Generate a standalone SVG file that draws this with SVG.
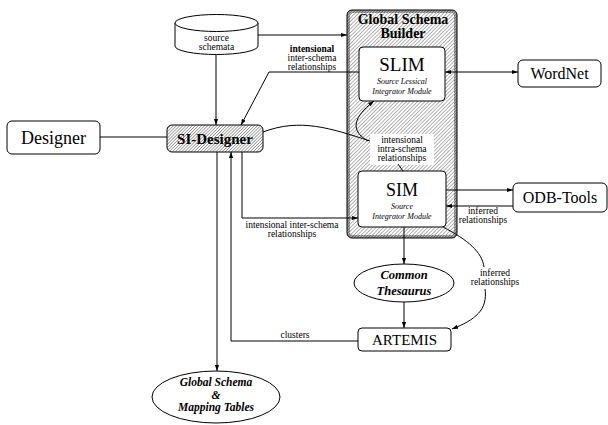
<svg xmlns="http://www.w3.org/2000/svg" width="608" height="425" viewBox="0 0 608 425" font-family="'Liberation Serif', 'Times New Roman', serif">
<defs>
<pattern id="hatch" patternUnits="userSpaceOnUse" width="2.6" height="2.6" patternTransform="rotate(45)">
<rect width="2.6" height="2.6" fill="#fff"/>
<line x1="0" y1="0" x2="0" y2="2.6" stroke="#777" stroke-width="1.1"/>
</pattern>
<pattern id="hatchMid" patternUnits="userSpaceOnUse" width="2.2" height="2.2" patternTransform="rotate(45)">
<rect width="2.2" height="2.2" fill="#fff"/>
<line x1="0" y1="0" x2="0" y2="2.2" stroke="#666" stroke-width="1.1"/>
</pattern>
<pattern id="hatchDark" patternUnits="userSpaceOnUse" width="2" height="2" patternTransform="rotate(45)">
<rect width="2" height="2" fill="#bbb"/>
<line x1="0" y1="0" x2="0" y2="2" stroke="#222" stroke-width="1.1"/>
</pattern>
<marker id="arr" viewBox="0 0 10 10" refX="10" refY="5" markerWidth="6" markerHeight="6" orient="auto-start-reverse" markerUnits="userSpaceOnUse">
<path d="M0,1.5 L10,5 L0,8.5 z" fill="#000"/>
</marker>
<style>
text{fill:#000;text-anchor:middle}
.box{fill:#fff;stroke:#000;stroke-width:1}
.c{fill:none;stroke:#000;stroke-width:1}
.s{font-size:9.5px}
.it{font-size:8px;font-style:italic}
.bi{font-weight:bold;font-style:italic;font-size:12.5px}
.bs{font-weight:bold;font-style:italic;font-size:11.5px}
</style>
</defs>

<g id="builder">
<rect x="347" y="10" width="110" height="228" rx="5" fill="url(#hatchDark)" stroke="#000" stroke-width="1"/>
<rect x="350" y="13" width="104" height="222" rx="3" fill="url(#hatch)"/>
<text x="403" y="24" font-size="14" font-weight="bold">Global Schema</text>
<text x="403" y="38" font-size="14" font-weight="bold">Builder</text>
</g>

<g id="source-schemata">
<path d="M175,23 L175,46 A41.5,8.5 0 0 0 258,46 L258,23" class="box"/>
<ellipse cx="216.5" cy="23" rx="41.5" ry="8.5" class="box"/>
<text x="216.5" y="41" class="s">source</text>
<text x="216.5" y="50" class="s">schemata</text>
</g>

<g id="designer">
<rect x="7" y="121" width="93" height="33" rx="5" class="box"/>
<text x="53.5" y="143.5" font-size="18">Designer</text>
</g>

<g id="si-designer">
<rect x="167" y="125" width="96" height="27" rx="5" fill="url(#hatchMid)" stroke="#000" stroke-width="1"/>
<text x="215" y="144" font-size="15" font-weight="bold">SI-Designer</text>
</g>

<g id="slim">
<rect x="359" y="47" width="86" height="54" rx="4" class="box"/>
<text x="402" y="71" font-size="19">SLIM</text>
<text x="402" y="84" class="it">Source Lessical</text>
<text x="402" y="94" class="it">Integrator Module</text>
</g>

<g id="wordnet">
<rect x="518" y="60" width="83" height="27" rx="5" class="box"/>
<text x="559.5" y="79" font-size="16">WordNet</text>
</g>

<g id="intra-label">
<rect x="370" y="134" width="64" height="31" fill="#fff"/>
<text x="402" y="143" class="s">intensional</text>
<text x="402" y="152" class="s">intra-schema</text>
<text x="402" y="161" class="s">relationships</text>
</g>

<g id="sim">
<rect x="358" y="171" width="88" height="56" rx="4" class="box"/>
<text x="402" y="196" font-size="18">SIM</text>
<text x="402" y="209" class="it">Source</text>
<text x="402" y="219" class="it">Integrator Module</text>
</g>

<g id="odb-tools">
<rect x="513" y="183" width="94" height="29" rx="5" class="box"/>
<text x="560" y="203" font-size="16">ODB-Tools</text>
</g>

<g id="common-thesaurus">
<ellipse cx="404" cy="283" rx="50" ry="19" class="box"/>
<text x="404" y="279" class="bi">Common</text>
<text x="404" y="295" class="bi">Thesaurus</text>
</g>

<g id="artemis">
<rect x="358" y="328" width="93" height="23" rx="4" class="box"/>
<text x="404.5" y="345" font-size="15">ARTEMIS</text>
</g>

<g id="global-schema">
<ellipse cx="216" cy="397" rx="64" ry="26" class="box"/>
<text x="216" y="386" class="bs">Global Schema</text>
<text x="216" y="398.5" class="bs">&amp;</text>
<text x="216" y="411" class="bs">Mapping Tables</text>
</g>

<g id="connectors">
<line x1="258" y1="35" x2="347" y2="35" class="c" marker-end="url(#arr)"/>
<line x1="216" y1="55" x2="216" y2="125" class="c" marker-end="url(#arr)"/>
<polyline points="359,72 269,72 241,125" class="c" marker-end="url(#arr)"/>
<line x1="445" y1="72" x2="518" y2="72" class="c" marker-start="url(#arr)" marker-end="url(#arr)"/>
<line x1="100" y1="137" x2="167" y2="137" class="c"/>
<path d="M263,132 C300,118 330,128 370,141" class="c"/>
<path d="M368,141 C345,128 360,112 374,101" class="c" marker-end="url(#arr)"/>
<line x1="398" y1="164" x2="403" y2="171" class="c"/>
<polyline points="242,152 242,218 358,218" class="c" marker-end="url(#arr)"/>
<line x1="446" y1="190" x2="513" y2="190" class="c" marker-end="url(#arr)"/>
<line x1="513" y1="206" x2="446" y2="206" class="c" marker-end="url(#arr)"/>
<line x1="404" y1="227" x2="404" y2="264" class="c" marker-end="url(#arr)"/>
<line x1="404" y1="302" x2="404" y2="328" class="c" marker-end="url(#arr)"/>
<path d="M443,227 C468,240 482,252 484,267" class="c"/>
<path d="M485,289 C488,310 475,320 452,329" class="c" marker-end="url(#arr)"/>
<polyline points="358,341 231,341 231,152" class="c" marker-end="url(#arr)"/>
<line x1="217" y1="152" x2="217" y2="371" class="c" marker-end="url(#arr)"/>
<text x="312" y="52" class="s" font-weight="bold">intensional</text>
<text x="312" y="61" class="s">inter-schema</text>
<text x="312" y="70" class="s">relationships</text>
<text x="292" y="228" class="s">intensional inter-schema</text>
<text x="292" y="237" class="s">relationships</text>
<text x="483" y="214" class="s">inferred</text>
<text x="483" y="223" class="s">relationships</text>
<text x="495" y="276" class="s">inferred</text>
<text x="495" y="285" class="s">relationships</text>
<text x="295" y="338" class="s">clusters</text>
</g>
</svg>
